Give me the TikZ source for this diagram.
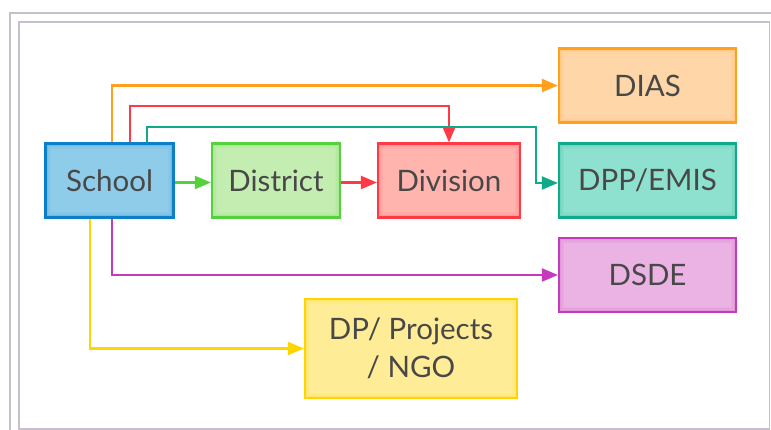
\documentclass[tikz,border=0pt]{standalone}
\usepackage{fontspec}
\setmainfont{Lato}
\usetikzlibrary{arrows.meta,calc}

\definecolor{frameC}{HTML}{C8BFCC}
\definecolor{txtC}{HTML}{484848}
\definecolor{schoolF}{HTML}{8FCCEA}\definecolor{schoolD}{HTML}{0B80C9}
\definecolor{distF}{HTML}{C4EEB1}\definecolor{distD}{HTML}{55D23B}
\definecolor{divF}{HTML}{FFB4AE}\definecolor{divD}{HTML}{FF3A46}
\definecolor{diasF}{HTML}{FFD6A7}\definecolor{diasD}{HTML}{FFA11F}
\definecolor{dppF}{HTML}{8EE1CF}\definecolor{dppD}{HTML}{10AA8A}
\definecolor{dsdeF}{HTML}{EAB3E3}\definecolor{dsdeD}{HTML}{C43ABF}
\definecolor{ngoF}{HTML}{FFEC97}\definecolor{ngoD}{HTML}{FFD500}

\tikzset{
  box/.style 2 args={
    rectangle, fill=#1, draw=#2, line width=2.2pt,
    text=txtC, font=\fontsize{29.5}{38.5}\selectfont, align=center,
    inner sep=0pt,
    path picture={
      \foreach \i/\o in {1.5/0.22,3/0.12,4.5/0.06}
        \draw[line width=1.6pt, draw=#2, opacity=\o]
          ([shift={(\i pt,-\i pt)}]path picture bounding box.north west)
          rectangle
          ([shift={(-\i pt,\i pt)}]path picture bounding box.south east);
    }
  },
  link/.style={line width=2.2pt, draw=#1,
    -{Triangle[length=16pt,width=13pt,fill=#1]}},
  frameline/.style={draw=frameC, line width=1.6pt}
}

\begin{document}
\begin{tikzpicture}[x=1pt,y=-1pt]
  \useasboundingbox (0,0) rectangle (771,430);

  % double frame
  \draw[frameline] (10,13) rectangle (800,460);
  \draw[frameline] (19,22) rectangle (769.5,429);

  % boxes
  \node[box={schoolF}{schoolD}, minimum width=128pt, minimum height=74pt] (school)   at (109.5,180.5) {\raisebox{-1.5pt}{School}};
  \node[box={distF}{distD},     minimum width=128pt, minimum height=74pt] (district) at (276,180.5)   {\raisebox{-1.5pt}{District}};
  \node[box={divF}{divD},       minimum width=142pt, minimum height=74pt] (division) at (449,180.5)   {\raisebox{-1.5pt}{Division}};
  \node[box={diasF}{diasD},     minimum width=177pt, minimum height=74pt] (dias)     at (647.5,85.5)  {\raisebox{-1.5pt}{DIAS}};
  \node[box={dppF}{dppD},       minimum width=177pt, minimum height=74pt] (dpp)      at (647.5,180.5) {\raisebox{-1.5pt}{DPP/EMIS}};
  \node[box={dsdeF}{dsdeD},     minimum width=177pt, minimum height=74pt] (dsde)     at (647.5,275)   {\raisebox{-1.5pt}{DSDE}};
  \node[box={ngoF}{ngoD},       minimum width=212pt, minimum height=99pt] (ngo)      at (411,348.5)   {DP/ Projects\\/ NGO};

  % bend points
  \coordinate (redlevel) at (0,106);
  \coordinate (tealbend) at (536,127);

  % connectors
  \draw[link=distD] ([yshift=-2pt]school.east) -- ([yshift=-2pt]district.west);
  \draw[link=divD]  ([yshift=-2pt]district.east) -- ([yshift=-2pt]division.west);
  \draw[link=diasD] ([xshift=2.5pt]school.north) |- (dias.west);
  \draw[link=divD]  ([xshift=20.5pt]school.north) |- (division.north |- redlevel) -- (division.north);
  \draw[link=dppD]  ([xshift=37.5pt]school.north) |- (tealbend) |- ([yshift=-2.5pt]dpp.west);
  \draw[link=dsdeD] ([xshift=2.5pt]school.south) |- (dsde.west);
  \draw[link=ngoD]  ([xshift=-19.5pt]school.south) |- (ngo.west);
\end{tikzpicture}
\end{document}
